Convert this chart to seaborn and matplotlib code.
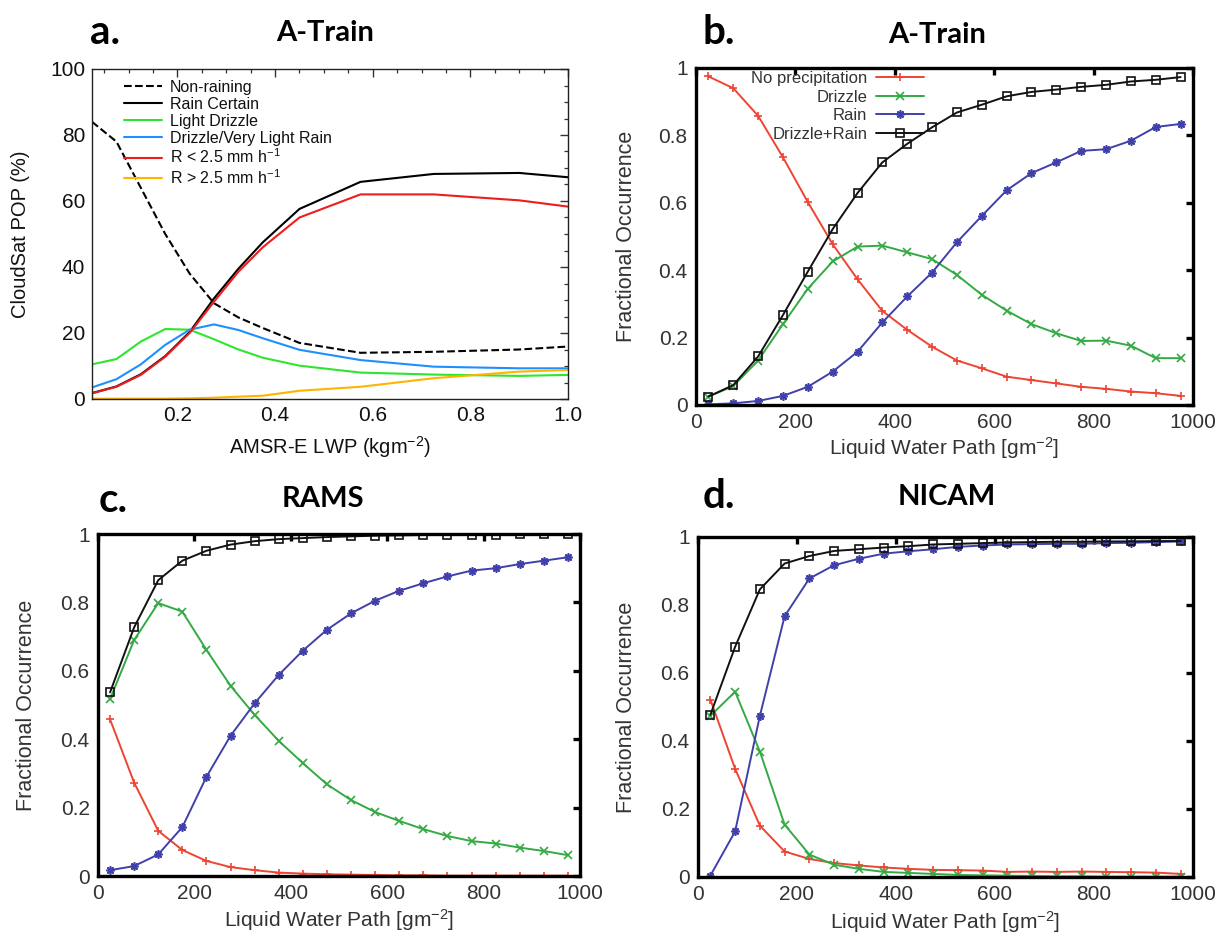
import matplotlib
matplotlib.use("Agg")
import matplotlib.pyplot as plt
from matplotlib import font_manager
from matplotlib.ticker import MultipleLocator, FuncFormatter
import seaborn as sns

# ---------------- data ----------------
# Panel a (A-Train, CloudSat POP vs AMSR-E LWP)
lwp_a = [0.025, 0.075, 0.125, 0.175, 0.225, 0.275, 0.325, 0.375, 0.45, 0.575, 0.725, 0.9, 1.0]
a_non_raining = [84.0, 78.0, 64.0, 50.0, 38.0, 29.0, 24.7, 21.5, 17.0, 14.0, 14.3, 15.0, 15.9]
a_rain_certain = [1.8, 3.8, 7.5, 13.0, 20.3, 30.5, 39.5, 47.5, 57.6, 65.8, 68.2, 68.5, 67.2]
a_light_drizzle = [10.5, 12.1, 17.4, 21.2, 21.0, 18.1, 15.0, 12.5, 10.1, 8.0, 7.4, 7.0, 7.3]
a_drizzle_vlr = [3.5, 6.0, 10.5, 16.4, 21.0, 22.6, 20.9, 18.4, 14.9, 11.8, 9.8, 9.3, 9.3]
a_r_lt = [1.7, 3.7, 7.3, 12.8, 20.0, 29.5, 38.6, 46.0, 55.0, 62.0, 62.0, 60.2, 58.3]
a_r_gt = [0.1, 0.1, 0.1, 0.1, 0.2, 0.4, 0.7, 1.0, 2.5, 3.7, 6.3, 8.3, 8.8]
a_labels = ["Non-raining", "Rain Certain", "Light Drizzle", "Drizzle/Very Light Rain",
            "R < 2.5 mm h$^{-1}$", "R > 2.5 mm h$^{-1}$"]

# Panels b-d (fractional occurrence vs LWP)
lwp = [25, 75, 125, 175, 225, 275, 325, 375, 425, 475, 525, 575, 625, 675, 725, 775, 825, 875, 925, 975]
series_labels = ["No precipitation", "Drizzle", "Rain", "Drizzle+Rain"]

b_noprecip = [0.975, 0.94, 0.858, 0.735, 0.602, 0.477, 0.373, 0.279, 0.223, 0.173, 0.132, 0.109, 0.084, 0.074, 0.064, 0.054, 0.048, 0.040, 0.035, 0.027]
b_drizzle = [0.025, 0.056, 0.132, 0.24, 0.345, 0.426, 0.47, 0.473, 0.453, 0.433, 0.386, 0.327, 0.28, 0.24, 0.213, 0.19, 0.191, 0.176, 0.139, 0.139]
b_rain = [0.002, 0.005, 0.012, 0.027, 0.054, 0.099, 0.158, 0.245, 0.322, 0.393, 0.483, 0.561, 0.637, 0.688, 0.72, 0.754, 0.759, 0.784, 0.825, 0.834]
b_total = [0.025, 0.059, 0.144, 0.267, 0.396, 0.522, 0.629, 0.72, 0.775, 0.824, 0.868, 0.891, 0.916, 0.929, 0.936, 0.944, 0.95, 0.96, 0.965, 0.973]

c_noprecip = [0.458, 0.273, 0.132, 0.076, 0.044, 0.026, 0.017, 0.010, 0.007, 0.005, 0.004, 0.003, 0.002, 0.002, 0.001, 0.001, 0.001, 0.001, 0.001, 0.001]
c_drizzle = [0.517, 0.69, 0.798, 0.773, 0.661, 0.556, 0.471, 0.395, 0.33, 0.268, 0.222, 0.187, 0.161, 0.137, 0.117, 0.102, 0.095, 0.083, 0.073, 0.061]
c_rain = [0.017, 0.029, 0.063, 0.143, 0.29, 0.41, 0.505, 0.588, 0.659, 0.72, 0.768, 0.805, 0.834, 0.856, 0.876, 0.893, 0.9, 0.912, 0.922, 0.932]
c_total = [0.537, 0.727, 0.865, 0.922, 0.951, 0.969, 0.979, 0.985, 0.988, 0.991, 0.993, 0.995, 0.996, 0.997, 0.997, 0.998, 0.998, 0.999, 0.999, 0.999]

d_noprecip = [0.522, 0.318, 0.151, 0.075, 0.053, 0.041, 0.034, 0.028, 0.024, 0.021, 0.020, 0.019, 0.015, 0.016, 0.015, 0.016, 0.015, 0.014, 0.013, 0.009]
d_drizzle = [0.474, 0.545, 0.369, 0.154, 0.066, 0.036, 0.024, 0.015, 0.012, 0.009, 0.006, 0.005, 0.004, 0.003, 0.002, 0.002, 0.001, 0.001, 0.001, 0.001]
d_rain = [0.004, 0.134, 0.474, 0.767, 0.878, 0.917, 0.936, 0.951, 0.958, 0.964, 0.971, 0.975, 0.978, 0.979, 0.98, 0.98, 0.982, 0.983, 0.985, 0.987]
d_total = [0.477, 0.677, 0.846, 0.922, 0.944, 0.959, 0.964, 0.969, 0.973, 0.978, 0.98, 0.982, 0.984, 0.985, 0.986, 0.986, 0.987, 0.987, 0.988, 0.988]

panel_titles = ["A-Train", "A-Train", "RAMS", "NICAM"]
panel_letters = ["a.", "b.", "c.", "d."]

# ---------------- style ----------------
sns.set_theme(style="white")
names = {f.name for f in font_manager.fontManager.ttflist}
body_font = "Liberation Sans" if "Liberation Sans" in names else "DejaVu Sans"
title_font = "Lato" if "Lato" in names else "Open Sans"
plt.rcParams["font.family"] = [body_font, "DejaVu Sans"]
plt.rcParams["mathtext.default"] = "regular"
plt.rcParams["legend.numpoints"] = 1

W, H = 1229, 934
fig = plt.figure(figsize=(W / 100, H / 100), dpi=100)
fig.patch.set_facecolor("white")


def box(left, top, right, bottom):
    return [left / W, 1 - bottom / H, (right - left) / W, (bottom - top) / H]


# ---------------- panel a ----------------
A_BOX = (92, 69, 568, 399)
ax_a = fig.add_axes(box(*A_BOX))
a_series = [a_non_raining, a_rain_certain, a_light_drizzle, a_drizzle_vlr, a_r_lt, a_r_gt]
a_colors = ["black", "black", "#2EE62E", "#1E8FFF", "#EE1C1C", "#FFB400"]
a_styles = ["--", "-", "-", "-", "-", "-"]
for vals, col, ls, lab in zip(a_series, a_colors, a_styles, a_labels):
    sns.lineplot(x=lwp_a, y=vals, ax=ax_a, color=col, linestyle=ls, linewidth=1.5,
                 label=lab, legend=False)
ax_a.set_xlim(0.025, 1.0)
ax_a.set_ylim(0, 100)
ax_a.xaxis.set_major_locator(MultipleLocator(0.2))
ax_a.xaxis.set_minor_locator(MultipleLocator(0.05))
ax_a.yaxis.set_major_locator(MultipleLocator(20))
ax_a.yaxis.set_minor_locator(MultipleLocator(5))
ax_a.xaxis.set_major_formatter(FuncFormatter(lambda v, p: f"{v:.1f}"))
ax_a.yaxis.set_major_formatter(FuncFormatter(lambda v, p: f"{v:.0f}"))
for s in ax_a.spines.values():
    s.set_linewidth(1.0)
    s.set_color("#222222")
ax_a.tick_params(which="both", direction="in", top=True, right=True, color="#333333")
ax_a.tick_params(which="major", length=6, width=1.0, labelsize=15, pad=5, labelcolor="#111111")
ax_a.tick_params(which="minor", length=3, width=0.9)
ax_a.set_xlabel("AMSR-E LWP (kgm$^{-2}$)", fontsize=14.5, color="#111111")
ax_a.set_ylabel("CloudSat POP (%)", fontsize=14.5, color="#111111")
aw, ah = A_BOX[2] - A_BOX[0], A_BOX[3] - A_BOX[1]
ax_a.xaxis.label.set_va("center")
ax_a.xaxis.set_label_coords(0.5, (A_BOX[3] - 447) / ah)
ax_a.yaxis.label.set_va("center")
ax_a.yaxis.set_label_coords((21 - A_BOX[0]) / aw, 0.5)
leg_a = ax_a.legend(loc="upper left", bbox_to_anchor=((124 - A_BOX[0]) / aw, (A_BOX[3] - 80) / ah),
                    frameon=False, fontsize=11.5, labelspacing=0.12, handlelength=2.4,
                    handletextpad=0.45, borderpad=0, borderaxespad=0)
for t in leg_a.get_texts():
    t.set_color("#111111")

# ---------------- panels b-d ----------------
g_colors = ["#EE4433", "#33AA44", "#4040AA", "#111111"]
g_markers = ["+", "x", (8, 2, 0), "s"]


def gnu_panel(bx, series, ylab_x, xlab_y, with_legend):
    ax = fig.add_axes(box(*bx))
    for vals, col, mk, lab in zip(series, g_colors, g_markers, series_labels):
        kw = dict(markersize=6, markeredgewidth=1.2)
        if mk == "s":
            kw.update(markerfacecolor="none", markeredgecolor=col, markersize=6)
        else:
            kw.update(markerfacecolor=col, markeredgecolor=col)
        sns.lineplot(x=lwp, y=vals, ax=ax, color=col, marker=mk, linewidth=1.4,
                     label=lab, legend=False, **kw)
    ax.set_xlim(0, 1000)
    ax.set_ylim(0, 1)
    ax.xaxis.set_major_locator(MultipleLocator(200))
    ax.yaxis.set_major_locator(MultipleLocator(0.2))
    ax.yaxis.set_major_formatter(FuncFormatter(lambda v, p: f"{round(v, 2):g}"))
    for s in ax.spines.values():
        s.set_linewidth(2.4)
        s.set_color("black")
    ax.tick_params(direction="in", length=5, width=2.4, top=True, right=True,
                   labelsize=15, labelcolor="#333333", pad=6, color="black")
    ax.set_xlabel("Liquid Water Path [gm$^{-2}$]", fontsize=15, color="#333333")
    ax.set_ylabel("Fractional Occurrence", fontsize=15.5, color="#333333")
    w, h = bx[2] - bx[0], bx[3] - bx[1]
    ax.xaxis.label.set_va("center")
    ax.xaxis.set_label_coords(0.5, (bx[3] - xlab_y) / h)
    ax.yaxis.label.set_va("center")
    ax.yaxis.set_label_coords((ylab_x - bx[0]) / w, 0.5)
    if with_legend:
        leg = ax.legend(loc="upper right", bbox_to_anchor=((924 - bx[0]) / w, (bx[3] - 71) / h),
                        frameon=False, fontsize=12, markerfirst=False, labelspacing=0.22,
                        handlelength=2.9, handletextpad=0.5, borderpad=0, borderaxespad=0)
        for t in leg.get_texts():
            t.set_color("#333333")
    return ax


B_BOX = (696, 68, 1193, 405)
C_BOX = (98, 534, 580, 876)
D_BOX = (698, 537, 1193, 877)
ax_b = gnu_panel(B_BOX, [b_noprecip, b_drizzle, b_rain, b_total], 626, 448, True)
ax_c = gnu_panel(C_BOX, [c_noprecip, c_drizzle, c_rain, c_total], 27, 920, False)
ax_d = gnu_panel(D_BOX, [d_noprecip, d_drizzle, d_rain, d_total], 626, 922, False)

# ---------------- panel letters & titles ----------------
letter_pos = [(105, 33), (719, 32), (113, 500), (719, 497)]
title_pos = [(325, 33), (937, 35), (323, 499), (947, 497)]
for (lx, ly), (tx, ty), letter, title in zip(letter_pos, title_pos, panel_letters, panel_titles):
    fig.text(lx / W, 1 - ly / H, letter, fontsize=29, fontweight="bold",
             family=[title_font, "DejaVu Sans"], ha="center", va="center", color="black")
    fig.text(tx / W, 1 - ty / H, title, fontsize=21, fontweight="bold",
             family=[title_font, "DejaVu Sans"], ha="center", va="center", color="black")

fig.savefig("out.png", dpi=100, facecolor="white")
